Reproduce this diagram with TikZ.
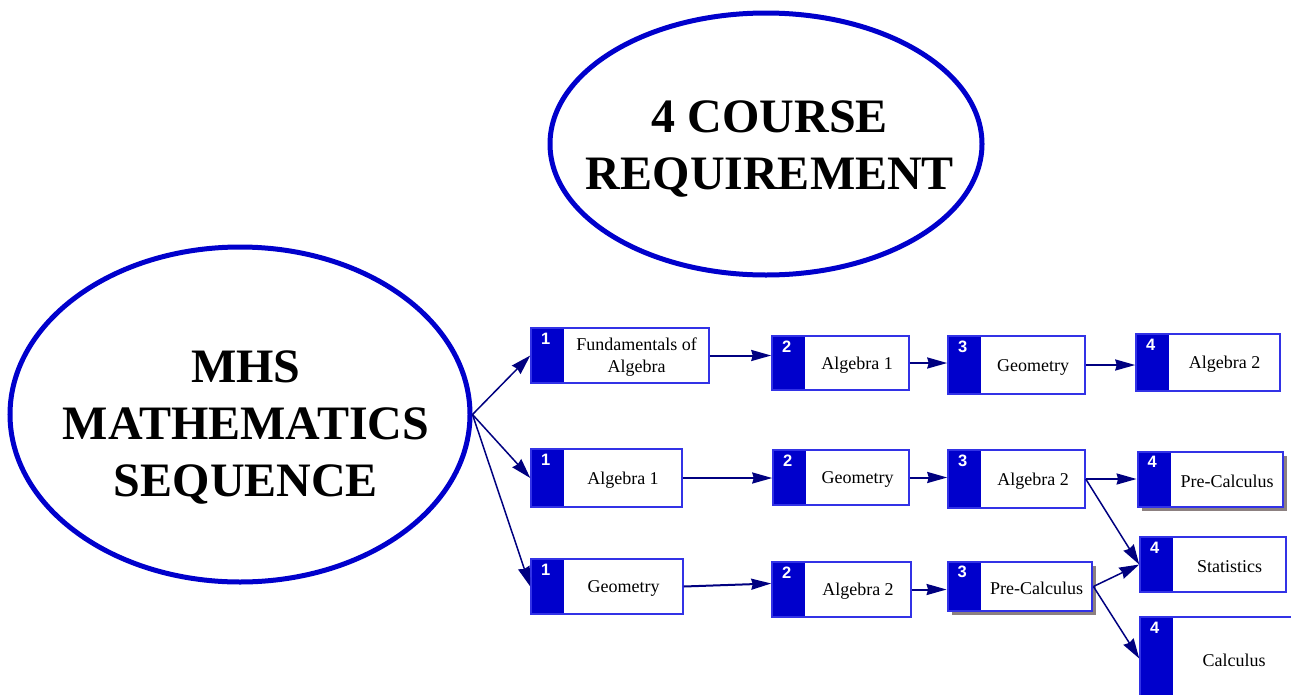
\documentclass[tikz,border=0pt]{standalone}
\usepackage{fontspec}
\setmainfont{Liberation Serif}
\newfontfamily\numfont{Liberation Sans}
\usetikzlibrary{arrows.meta,shadows,shapes.geometric}
\definecolor{ellblue}{RGB}{0,0,204}
\definecolor{stripblue}{RGB}{0,0,204}
\definecolor{edgeblue}{RGB}{50,50,230}
\definecolor{arrnavy}{RGB}{0,0,128}
\definecolor{shadowgray}{RGB}{140,128,128}
\begin{document}
\begin{tikzpicture}[x=1pt,y=-1pt,
  bigell/.style={draw=ellblue, line width=5pt, ellipse, inner sep=0pt, fill=white},
  bigtxt/.style={font=\fontsize{48}{57}\selectfont\bfseries, align=center, inner sep=0pt},
  cbox/.style={draw=edgeblue, fill=white, line width=1.5pt, inner sep=0pt,
    path picture={\fill[stripblue] (path picture bounding box.north west) rectangle ([xshift=33pt]path picture bounding box.south west);}},
  shbox/.style={cbox, line width=2.8pt, drop shadow={shadow xshift=4pt, shadow yshift=-4pt, fill=shadowgray, opacity=1}},
  btxt/.style={font=\fontsize{18}{22}\selectfont, align=center, inner sep=0pt, yshift=-2pt},
  num/.style={font=\numfont\bfseries\fontsize{16.5}{16.5}\selectfont, text=white, anchor=north, inner sep=0pt, yshift=-5.5pt},
  conn/.style={draw=arrnavy, line width=2pt, -{Stealth[length=20pt,width=11pt,inset=1.5pt]}},
  diag/.style={draw=arrnavy, line width=1.5pt, -{Stealth[length=20pt,width=12pt,inset=1.5pt]}}
]
\useasboundingbox (0,0) rectangle (1291,694);
\clip (0,0) rectangle (1291,694);
\fill[white] (0,0) rectangle (1291,694);

% ellipses
\node[bigell, minimum width=432, minimum height=262] (req) at (766,144) {};
\node[bigtxt] (reqt) at (770,149) {4 COURSE\\REQUIREMENT};
\node[bigell, minimum width=460, minimum height=335] (mhs) at (240,414.5) {};
\node[bigtxt] (mhst) at (246,427) {MHS\\MATHEMATICS\\SEQUENCE};

% row 1
\node[cbox, minimum width=178, minimum height=55] (a1) at (620,355.5) {};
\node[btxt] (a1t) at ([xshift=16.5pt]a1.center) {Fundamentals of\\Algebra};
\node[num] (a1n) at ([xshift=15.5pt]a1.north west) {1};
\node[cbox, minimum width=137, minimum height=54] (a2) at (840.5,363) {};
\node[btxt] (a2t) at ([xshift=16.5pt]a2.center) {Algebra 1};
\node[num] (a2n) at ([xshift=15.5pt]a2.north west) {2};
\node[cbox, minimum width=137, minimum height=58] (a3) at (1016.5,365) {};
\node[btxt] (a3t) at ([xshift=16.5pt]a3.center) {Geometry};
\node[num] (a3n) at ([xshift=15.5pt]a3.north west) {3};
\node[cbox, minimum width=144, minimum height=57] (a4) at (1208,362.5) {};
\node[btxt] (a4t) at ([xshift=16.5pt]a4.center) {Algebra 2};
\node[num] (a4n) at ([xshift=15.5pt]a4.north west) {4};

% row 2
\node[cbox, minimum width=151, minimum height=58] (b1) at (606.5,478) {};
\node[btxt] (b1t) at ([xshift=16.5pt]b1.center) {Algebra 1};
\node[num] (b1n) at ([xshift=15.5pt]b1.north west) {1};
\node[cbox, minimum width=136, minimum height=55] (b2) at (841,477.5) {};
\node[btxt] (b2t) at ([xshift=16.5pt]b2.center) {Geometry};
\node[num] (b2n) at ([xshift=15.5pt]b2.north west) {2};
\node[cbox, minimum width=137, minimum height=58] (b3) at (1016.5,479) {};
\node[btxt] (b3t) at ([xshift=16.5pt]b3.center) {Algebra 2};
\node[num] (b3n) at ([xshift=15.5pt]b3.north west) {3};
\node[shbox, minimum width=145, minimum height=55] (b4) at (1210.5,479.5) {};
\node[btxt] (b4t) at ([xshift=16.5pt]b4.center) {Pre-Calculus};
\node[num] (b4n) at ([xshift=15.5pt]b4.north west) {4};

% row 3
\node[cbox, minimum width=152, minimum height=55] (c1) at (607,586.5) {};
\node[btxt] (c1t) at ([xshift=16.5pt]c1.center) {Geometry};
\node[num] (c1n) at ([xshift=15.5pt]c1.north west) {1};
\node[cbox, minimum width=139, minimum height=55] (c2) at (841.5,589.5) {};
\node[btxt] (c2t) at ([xshift=16.5pt]c2.center) {Algebra 2};
\node[num] (c2n) at ([xshift=15.5pt]c2.north west) {2};
\node[shbox, minimum width=144, minimum height=49] (c3) at (1020,586.5) {};
\node[btxt] (c3t) at ([xshift=16.5pt]c3.center) {Pre-Calculus};
\node[num] (c3n) at ([xshift=15.5pt]c3.north west) {3};
\node[cbox, minimum width=146, minimum height=55] (c4) at (1213,564.5) {};
\node[btxt] (c4t) at ([xshift=16.5pt]c4.center) {Statistics};
\node[num] (c4n) at ([xshift=15.5pt]c4.north west) {4};
\node[cbox, minimum width=155, minimum height=83] (c5) at (1217.5,658.5) {};
\node[btxt] (c5t) at ([xshift=16.5pt]c5.center) {Calculus};
\node[num] (c5n) at ([xshift=15.5pt]c5.north west) {4};

% connectors
\draw[diag] (mhs.east) -- (a1.west);
\draw[diag] (mhs.east) -- (b1.west);
\draw[diag] (mhs.east) -- (c1.west);
\draw[conn] (a1.east) -- (a1.east -| a2.west);
\draw[conn] (a2.east) -- (a2.east -| a3.west);
\draw[conn] (a3.east) -- (a3.east -| a4.west);
\draw[conn] (b1.east) -- (b1.east -| b2.west);
\draw[conn] (b2.east) -- (b2.east -| b3.west);
\draw[conn] (b3.east) -- (b3.east -| b4.west);
\draw[diag] (b3.east) -- (c4.west);
\draw[conn] (c1.east) -- ([yshift=6pt]c2.west);
\draw[conn] (c2.east) -- (c2.east -| c3.west);
\draw[diag] (c3.east) -- (c4.west);
\draw[diag] (c3.east) -- (c5.west);
\end{tikzpicture}
\end{document}
